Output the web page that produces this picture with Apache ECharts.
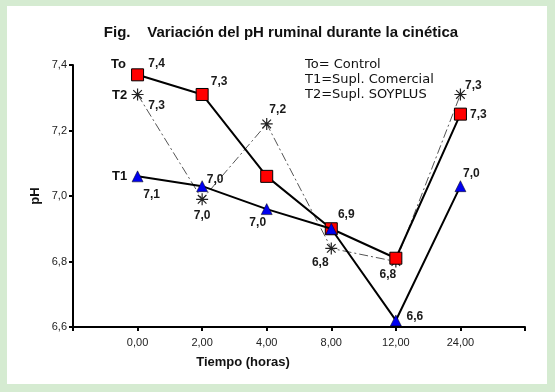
<!DOCTYPE html>
<html><head><meta charset="utf-8">
<script src="https://cdn.jsdelivr.net/npm/echarts@6/dist/echarts.min.js"></script>
<style>html,body{margin:0;padding:0;background:#d5ebd1}#c{width:555px;height:392px}</style>
</head><body><div id="c"></div>
<script>
const hours = ['0,00', '2,00', '4,00', '8,00', '12,00', '24,00'];
const phTo = [7.37, 7.31, 7.06, 6.90, 6.81, 7.25];
const phT1 = [7.06, 7.03, 6.96, 6.90, 6.62, 7.03];
const phT2 = [7.31, 6.99, 7.22, 6.84, 6.80, 7.31];
const seriesNames = ['To', 'T1', 'T2'];
const legendLines = ['To= Control', 'T1=Supl. Comercial', 'T2=Supl. SOYPLUS'];
const titleText = 'Fig.    Variación del pH ruminal durante la cinética';

// label placement (style only)
const labelOffsets = {
  To: [[19,-11],[17,-13],null,[15,-14],[-8,16],[18,1]],
  T1: [[14,18],[13,-6],[-9,14],null,[19,-4],[11,-12]],
  T2: [[19,11],[0,16],[11,-14],[-11,14],null,[13,-9]]
};
const fmt = v => v.toFixed(1).replace('.', ',');
const FONT = 'Liberation Sans, Arial, sans-serif';

function buildData(vals, offs) {
  return vals.map((v, i) => {
    const o = offs[i];
    return {
      value: [i, v],
      label: o ? { show: true, position: 'inside', offset: o, align: 'center', verticalAlign: 'middle' } : { show: false }
    };
  });
}
const labelStyle = { color: '#1a1a1a', fontSize: 12, fontWeight: 'bold', fontFamily: FONT,
  formatter: p => fmt(p.value[1]) };

const chart = echarts.init(document.getElementById('c'), null, { renderer: 'canvas' });
const asterisk = 'path://M0,-6L0,6M-6,0L6,0M-4.3,-4.3L4.3,4.3M-4.3,4.3L4.3,-4.3';

const option = {
  backgroundColor: '#d5ebd1',
  animation: false,
  grid: { left: 73, right: 30, top: 65, bottom: 65 },
  xAxis: {
    type: 'value', min: -1, max: 6, interval: 1,
    axisLine: { onZero: false, lineStyle: { color: '#000', width: 2 } },
    axisTick: { show: true, length: 4, lineStyle: { color: '#000', width: 2 } },
    splitLine: { show: false },
    axisLabel: { color: '#222', fontSize: 11, fontFamily: FONT, margin: 10,
      formatter: v => (v >= 0 && v < hours.length) ? hours[v] : '' }
  },
  yAxis: {
    type: 'value', min: 6.6, max: 7.4, interval: 0.2,
    axisLine: { show: true, onZero: false, lineStyle: { color: '#000', width: 2 } },
    axisTick: { show: true, length: 4, lineStyle: { color: '#000', width: 2 } },
    splitLine: { show: false },
    axisLabel: { color: '#222', fontSize: 11, fontFamily: FONT, margin: 6, formatter: v => fmt(v) }
  },
  series: [
    {
      name: seriesNames[2], type: 'line', z: 2,
      data: buildData(phT2, labelOffsets.T2),
      symbol: asterisk, symbolSize: 12,
      lineStyle: { color: '#555', width: 1, type: [9, 3, 2, 3] },
      itemStyle: { color: 'none', borderColor: '#222', borderWidth: 1.2 },
      label: labelStyle
    },
    {
      name: seriesNames[0], type: 'line', z: 3,
      data: buildData(phTo, labelOffsets.To),
      symbol: 'rect', symbolSize: 12,
      lineStyle: { color: '#000', width: 2 },
      itemStyle: { color: '#ff0000', borderColor: '#000', borderWidth: 1 },
      label: labelStyle
    },
    {
      name: seriesNames[1], type: 'line', z: 4,
      data: buildData(phT1, labelOffsets.T1),
      symbol: 'triangle', symbolSize: 11,
      lineStyle: { color: '#000', width: 2 },
      itemStyle: { color: '#0000ee', borderColor: '#000', borderWidth: 0.5 },
      label: labelStyle
    }
  ]
};
chart.setOption(option);

const pTo = chart.convertToPixel({ seriesIndex: 1 }, [0, phTo[0]]);
const pT1 = chart.convertToPixel({ seriesIndex: 2 }, [0, phT1[0]]);
const pT2 = chart.convertToPixel({ seriesIndex: 0 }, [0, phT2[0]]);
const nameStyle = (t, p, dx, dy) => ({ type: 'text', x: p[0] + dx, y: p[1] + dy, z: 10,
  style: { text: t, fill: '#111', font: 'bold 13px ' + FONT, textAlign: 'center', textVerticalAlign: 'middle' } });

chart.setOption({
  graphic: [
    { type: 'rect', shape: { x: 7, y: 6, width: 540, height: 378 }, style: { fill: '#fff' }, z: -10, silent: true },
    { type: 'text', x: 281, y: 33, style: { text: titleText, fill: '#111', font: 'bold 15px ' + FONT, textAlign: 'center', textVerticalAlign: 'middle' } },
    { type: 'text', x: 305, y: 65, style: { text: legendLines[0], fill: '#111', font: '13px DejaVu Sans', textVerticalAlign: 'middle' } },
    { type: 'text', x: 305, y: 80, style: { text: legendLines[1], fill: '#111', font: '13px DejaVu Sans', textVerticalAlign: 'middle' } },
    { type: 'text', x: 305, y: 95, style: { text: legendLines[2], fill: '#111', font: '13px DejaVu Sans', textVerticalAlign: 'middle' } },
    nameStyle(seriesNames[0], pTo, -19, -10),
    nameStyle(seriesNames[2], pT2, -18, 1),
    nameStyle(seriesNames[1], pT1, -18, 0),
    { type: 'text', x: 243, y: 362, style: { text: 'Tiempo (horas)', fill: '#111', font: 'bold 13px ' + FONT, textAlign: 'center', textVerticalAlign: 'middle' } },
    { type: 'text', x: 35, y: 196, rotation: Math.PI / 2, style: { text: 'pH', fill: '#111', font: 'bold 13px ' + FONT, textAlign: 'center', textVerticalAlign: 'middle' } }
  ]
});
</script></body></html>
